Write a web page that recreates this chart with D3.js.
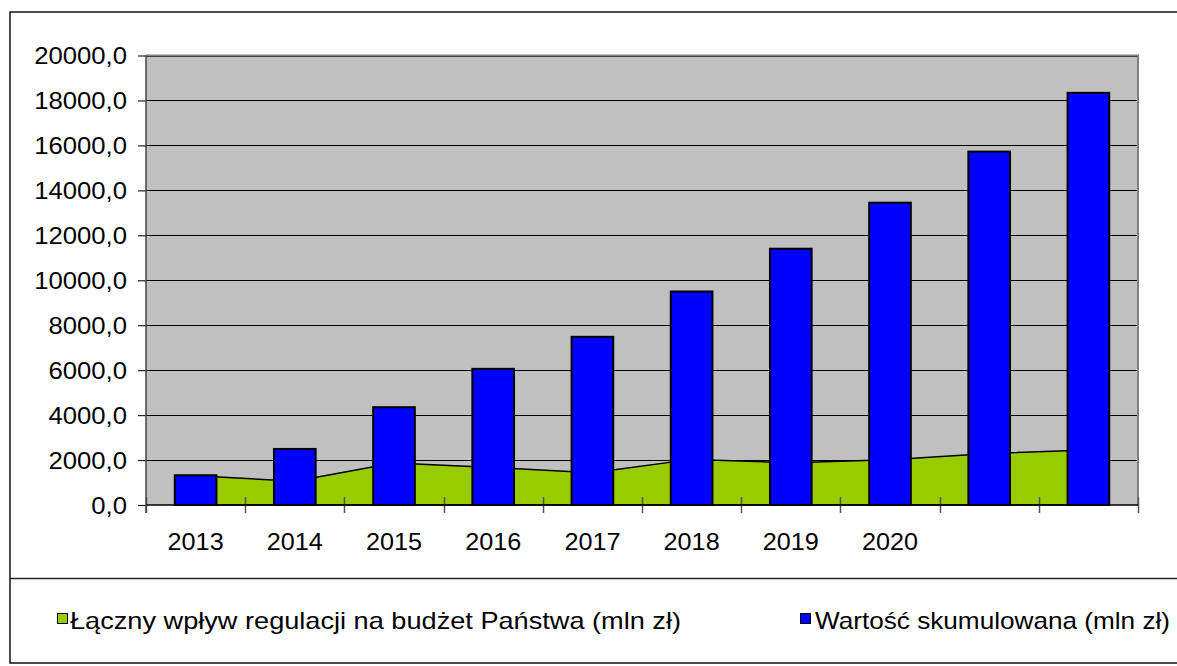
<!DOCTYPE html>
<html>
<head>
<meta charset="utf-8">
<script src="https://cdn.jsdelivr.net/npm/d3@7"></script>
<style>
  html, body { margin: 0; padding: 0; background: #fff; }
  svg { display: block; font-family: "Liberation Sans", Arial, sans-serif; }
</style>
</head>
<body>
<svg id="chart" width="1177" height="666"></svg>
<script>
// ---- data ----
const categories = ["2013","2014","2015","2016","2017","2018","2019","2020","",""];
const impactValues = [1300, 1060, 1870, 1670, 1430, 2030, 1880, 2010, 2290, 2450];   // Łączny wpływ (area)
const cumulativeValues = [1323, 2494, 4352, 6058, 7483, 9500, 11403, 13452, 15724, 18339]; // Wartość skumulowana (bars)
const yTicks = [0, 2000, 4000, 6000, 8000, 10000, 12000, 14000, 16000, 18000, 20000];
const seriesNames = ["Łączny wpływ regulacji na budżet Państwa (mln zł)", "Wartość skumulowana (mln zł)"];
const seriesColors = ["#99cc00", "#0000ff"];

const svg = d3.select("#chart");
const plot = { left: 146, right: 1138, top: 55.5, bottom: 505 };

const idx = categories.map((c, i) => i);
const x = d3.scaleBand().domain(idx).range([plot.left, plot.right]).paddingInner(0).paddingOuter(0);
const y = d3.scaleLinear().domain([0, 20000]).range([plot.bottom, plot.top]);
const plLocale = d3.formatLocale({ decimal: ",", thousands: "", grouping: [3], currency: ["", " zł"] });
const fmt = plLocale.format(".1f");

function stretch(sel, factor) {
  sel.each(function () {
    const w = this.getComputedTextLength();
    d3.select(this).attr("textLength", w * factor).attr("lengthAdjust", "spacingAndGlyphs");
  });
}

// outer frame
svg.append("rect").attr("x", 10).attr("y", 12).attr("width", 1200).attr("height", 651)
  .attr("fill", "#fff").attr("stroke", "#111").attr("stroke-width", 1.5);
svg.append("line").attr("x1", 10).attr("x2", 1177).attr("y1", 578.5).attr("y2", 578.5)
  .attr("stroke", "#222").attr("stroke-width", 1.5);

// plot background
svg.append("rect").attr("x", plot.left).attr("y", plot.top)
  .attr("width", plot.right - plot.left).attr("height", plot.bottom - plot.top)
  .attr("fill", "#c0c0c0");

// gridlines
svg.append("g").selectAll("line").data(yTicks.slice(1)).join("line")
  .attr("x1", plot.left).attr("x2", plot.right)
  .attr("y1", d => Math.round(y(d)) + 0.5).attr("y2", d => Math.round(y(d)) + 0.5)
  .attr("stroke", "#000").attr("stroke-width", 1);

// plot border top/right (grey)
svg.append("path")
  .attr("d", `M${plot.left},${plot.top}H${plot.right}V${plot.bottom}`)
  .attr("fill", "none").attr("stroke", "#808080").attr("stroke-width", 2);

// area series
const area = d3.area()
  .x((d, i) => x(i) + x.bandwidth() / 2)
  .y0(y(0))
  .y1(d => y(d));
svg.append("path").datum(impactValues)
  .attr("d", area)
  .attr("fill", seriesColors[0]).attr("stroke", "#000").attr("stroke-width", 1.5)
  .attr("stroke-linejoin", "round");

// x boundary ticks (cross)
const boundaries = d3.range(categories.length + 1);
svg.append("g").selectAll("line").data(boundaries).join("line")
  .attr("x1", d => Math.round(plot.left + d * x.step()) + 0.5)
  .attr("x2", d => Math.round(plot.left + d * x.step()) + 0.5)
  .attr("y1", plot.bottom - 8).attr("y2", plot.bottom + 8)
  .attr("stroke", "#555").attr("stroke-width", 1.5);

// bars
const barW = x.step() * 0.42;
svg.append("g").selectAll("rect").data(cumulativeValues).join("rect")
  .attr("x", (d, i) => x(i) + x.bandwidth() / 2 - barW / 2)
  .attr("y", d => y(d))
  .attr("width", barW)
  .attr("height", d => y(0) - y(d))
  .attr("fill", seriesColors[1]).attr("stroke", "#000").attr("stroke-width", 2);

// x axis line
svg.append("line").attr("x1", plot.left).attr("x2", plot.right)
  .attr("y1", plot.bottom).attr("y2", plot.bottom)
  .attr("stroke", "#000").attr("stroke-width", 1.5);

// y axis
const yAxis = d3.axisLeft(y).tickValues(yTicks).tickFormat(fmt).tickSize(8).tickPadding(11);
const yg = svg.append("g").attr("transform", `translate(${plot.left},0)`).call(yAxis);
yg.select(".domain").remove();
yg.append("line").attr("x1", 0).attr("x2", 0).attr("y1", plot.top).attr("y2", plot.bottom + 8)
  .attr("stroke", "#444").attr("stroke-width", 1.5);
yg.selectAll(".tick line").attr("stroke", "#222").attr("stroke-width", 1.2);
yg.selectAll(".tick text").attr("font-size", 24).attr("fill", "#000")
  .attr("font-family", "'Liberation Sans', Arial, sans-serif").attr("dy", "0.35em");
stretch(yg.selectAll(".tick text"), 1.07);

// x axis labels
const xAxis = d3.axisBottom(x).tickFormat(i => categories[i]).tickSize(0).tickPadding(28);
const xg = svg.append("g").attr("transform", `translate(0,${plot.bottom})`).call(xAxis);
xg.select(".domain").remove();
xg.selectAll(".tick text").attr("font-size", 24).attr("fill", "#000")
  .attr("font-family", "'Liberation Sans', Arial, sans-serif");
stretch(xg.selectAll(".tick text"), 1.05);

// legend
const legendItems = [
  { name: seriesNames[0], color: seriesColors[0], sx: 57, tx: 70, w: 611 },
  { name: seriesNames[1], color: seriesColors[1], sx: 800, tx: 815, w: 355 }
];
const lg = svg.append("g");
legendItems.forEach(it => {
  lg.append("rect").attr("x", it.sx + 0.5).attr("y", 613.5).attr("width", 10).attr("height", 10)
    .attr("fill", it.color).attr("stroke", "#000").attr("stroke-width", 1);
  lg.append("text").attr("x", it.tx).attr("y", 629).attr("font-size", 24).attr("fill", "#000")
    .attr("textLength", it.w).attr("lengthAdjust", "spacingAndGlyphs")
    .text(it.name);
});
</script>
</body>
</html>
